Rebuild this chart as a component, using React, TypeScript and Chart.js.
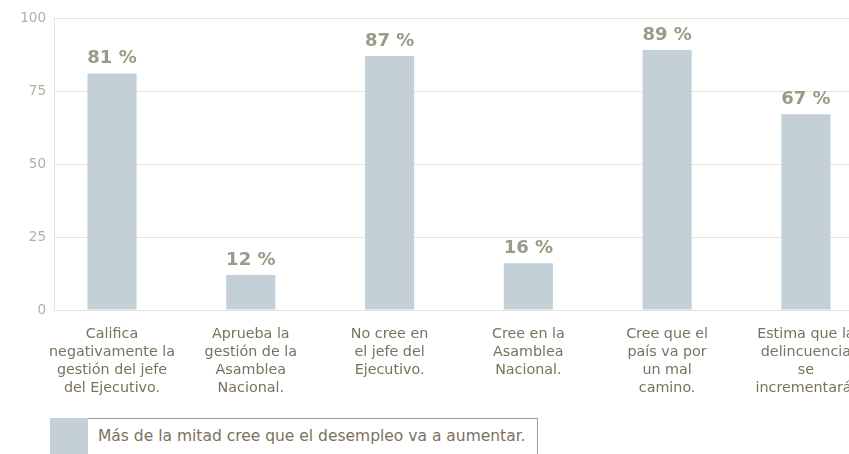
import React, { useEffect, useRef } from "react";
import { Chart, registerables } from "chart.js";

Chart.register(...registerables);

const categories: string[][] = [
  ["Califica", "negativamente la", "gestión del jefe", "del Ejecutivo."],
  ["Aprueba la", "gestión de la", "Asamblea", "Nacional."],
  ["No cree en", "el jefe del", "Ejecutivo."],
  ["Cree en la", "Asamblea", "Nacional."],
  ["Cree que el", "país va por", "un mal", "camino."],
  ["Estima que la", "delincuencia", "se", "incrementará."],
];
const values: number[] = [81, 12, 87, 16, 89, 67];
const yTicks: number[] = [0, 25, 50, 75, 100];
const legendLabel = "Más de la mitad cree que el desempleo va a aumentar.";

const BAR_COLOR = "#c4d0d8";
const GRID_COLOR = "#e6e3d8";
const FONT = "'DejaVu Sans', sans-serif";

const valueLabels = {
  id: "valueLabels",
  afterDatasetsDraw(chart: any) {
    const ctx = chart.ctx;
    const meta = chart.getDatasetMeta(0);
    ctx.save();
    ctx.font = "bold 18px " + FONT;
    ctx.fillStyle = "#9b9a88";
    ctx.textAlign = "center";
    ctx.textBaseline = "alphabetic";
    meta.data.forEach((bar: any, i: number) => {
      ctx.fillText(values[i] + " %", bar.x, bar.y - 10);
    });
    ctx.restore();
  },
};

export default function App() {
  const ref = useRef<HTMLCanvasElement>(null);
  useEffect(() => {
    if (!ref.current) return;
    const chart = new Chart(ref.current, {
      type: "bar",
      data: {
        datasets: [
          {
            label: legendLabel,
            data: values.map((v, i) => ({ x: i, y: v })),
            backgroundColor: BAR_COLOR,
            borderWidth: 0,
            categoryPercentage: 1,
            barPercentage: 0.354,
          },
        ],
      },
      options: {
        animation: false,
        responsive: false,
        layout: { padding: { top: 10, right: 0, bottom: 0, left: 0 } },
        plugins: {
          legend: { display: false },
          tooltip: { enabled: false },
        },
        scales: {
          x: {
            type: "linear",
            offset: false,
            bounds: "data",
            min: -0.418,
            max: 5.88,
            afterBuildTicks: (s: any) => {
              s.ticks = categories.map((_, i) => ({ value: i }));
            },
            afterFit: (s: any) => {
              s.height = 98;
              s.paddingLeft = 0;
              s.paddingRight = 0;
            },
            grid: { display: false, offset: false },
            border: { display: false },
            ticks: {
              autoSkip: false,
              maxRotation: 0,
              padding: 7,
              color: "#7b715f",
              font: { family: FONT, size: 14.3, lineHeight: 1.27 },
              callback: (v: any) => categories[v as number] ?? "",
            },
          },
          y: {
            min: 0,
            max: 100,
            afterBuildTicks: (s: any) => {
              s.ticks = yTicks.map((v) => ({ value: v }));
            },
            afterFit: (s: any) => {
              s.width = 46;
              s.paddingTop = 0;
              s.paddingBottom = 0;
            },
            grid: { color: GRID_COLOR, lineWidth: 1, drawTicks: false },
            border: { color: GRID_COLOR, width: 1 },
            ticks: {
              padding: 8,
              color: "#b3afa3",
              font: { family: FONT, size: 13.5 },
            },
          },
        },
      },
      plugins: [valueLabels],
    });
    return () => chart.destroy();
  }, []);

  return (
    <div
      style={{
        position: "fixed",
        left: 0,
        top: 0,
        right: 0,
        bottom: 0,
        overflow: "hidden",
        fontFamily: FONT,
        background: "#ffffff",
      }}
    >
      <canvas
        ref={ref}
        width={920}
        height={400}
        style={{ display: "block", position: "absolute", left: 8, top: 8 }}
      />
      <div
        style={{
          position: "absolute",
          left: 73,
          top: 418,
          width: 463,
          height: 50,
          border: "1px solid #a29c90",
        }}
      />
      <div
        style={{
          position: "absolute",
          left: 50,
          top: 418,
          width: 38,
          height: 50,
          background: BAR_COLOR,
        }}
      />
      <div
        style={{
          position: "absolute",
          left: 98,
          top: 427,
          fontSize: 15.5,
          lineHeight: "18px",
          color: "#7b715f",
          whiteSpace: "nowrap",
        }}
      >
        {legendLabel}
      </div>
    </div>
  );
}
